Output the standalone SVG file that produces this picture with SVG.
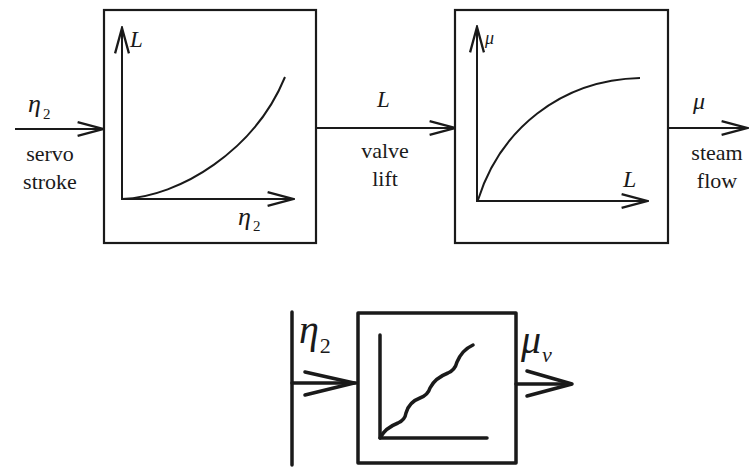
<svg xmlns="http://www.w3.org/2000/svg" width="749" height="469" viewBox="0 0 749 469">
<defs>
<style>
.ln{fill:none;stroke:#1a1a1a;stroke-width:2}
.bx{fill:#fff;stroke:#1a1a1a;stroke-width:2.2}
.tk{fill:none;stroke:#1a1a1a;stroke-width:3.5;stroke-linejoin:round;stroke-linecap:round}
.t{font-family:'Liberation Serif','Times New Roman',serif;fill:#1a1a1a}
.i{font-style:italic}
.u{font-style:normal}
.m{text-anchor:middle}
</style>
<marker id="ah" markerUnits="userSpaceOnUse" markerWidth="30" markerHeight="20" viewBox="-24 -8 26 16" refX="0" refY="0" orient="auto">
<path d="M-22,-6 L0,0 L-22,6" fill="none" stroke="#1a1a1a" stroke-width="2"/>
</marker>
</defs>
<g id="connectors">
<line class="ln" x1="15" y1="129" x2="103" y2="129" marker-end="url(#ah)"/>
<line class="ln" x1="316" y1="128" x2="455" y2="128" marker-end="url(#ah)"/>
<line class="ln" x1="668" y1="128" x2="747" y2="128" marker-end="url(#ah)"/>
<line class="tk" x1="292" y1="383" x2="356" y2="383"/>
<path class="tk" d="M305,372 L354,383 L305,395"/>
<line class="tk" x1="516" y1="384" x2="570" y2="384"/>
<path class="tk" d="M527,371 L572,384 L527,396"/>
<line class="tk" x1="292" y1="312" x2="292" y2="465"/>
</g>
<g id="labels">
<text class="t i" x="28" y="112" font-size="26">η<tspan class="u" font-size="15" dx="2" dy="7">2</tspan></text>
<text class="t m" x="50" y="161" font-size="22">servo</text>
<text class="t m" x="50" y="189" font-size="22">stroke</text>
<text class="t i" x="377" y="107" font-size="23">L</text>
<text class="t m" x="385" y="158" font-size="22">valve</text>
<text class="t m" x="385" y="186" font-size="22">lift</text>
<text class="t i" x="693" y="109" font-size="24">μ</text>
<text class="t m" x="717" y="160" font-size="22">steam</text>
<text class="t m" x="717" y="188" font-size="22">flow</text>
</g>
<g id="box1">
<rect class="bx" x="104" y="10" width="212" height="233"/>
<line class="ln" x1="122" y1="200" x2="122" y2="28" marker-end="url(#ah)"/>
<line class="ln" x1="121" y1="199" x2="293" y2="199" marker-end="url(#ah)"/>
<path class="ln" d="M122,199 C180,197 255,150 285,77"/>
<text class="t i" x="130" y="47" font-size="23">L</text>
<text class="t i" x="238" y="225" font-size="26">η<tspan class="u" font-size="15" dx="2" dy="6">2</tspan></text>
</g>
<g id="box2">
<rect class="bx" x="455" y="10" width="213" height="233"/>
<line class="ln" x1="477" y1="202" x2="477" y2="27" marker-end="url(#ah)"/>
<line class="ln" x1="476" y1="201" x2="647" y2="201" marker-end="url(#ah)"/>
<path class="ln" d="M478,200 C500,130 560,80 640,78"/>
<text class="t i" x="485" y="44" font-size="18">μ</text>
<text class="t i" x="623" y="187" font-size="24">L</text>
</g>
<g id="box3">
<rect class="tk" x="358" y="313" width="158" height="150" fill="#fff"/>
<path class="tk" d="M380,335 L380,438 L487,438"/>
<path class="tk" d="M380,438 Q385,428 398,423 Q405,420 406,413 Q409,402 420,398 Q428,395 430,388 Q435,378 448,373 Q455,370 457,362 Q462,350 473,345"/>
<text class="t i" x="299" y="343" font-size="40">η<tspan class="u" font-size="22" dx="1" dy="10">2</tspan></text>
<text class="t i" x="521" y="353" font-size="40">μ<tspan font-size="22" dx="1" dy="9">ν</tspan></text>
</g>
</svg>
